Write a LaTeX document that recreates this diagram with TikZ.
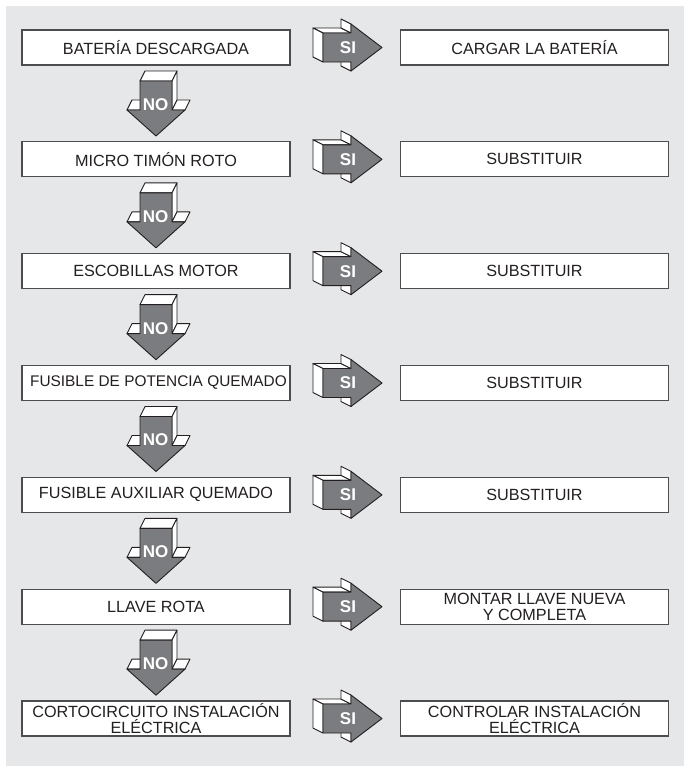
\documentclass[tikz,border=0pt]{standalone}
\usepackage{fontspec}
\setmainfont{Liberation Sans}
\definecolor{bg}{HTML}{E6E7E8}
\definecolor{ink}{HTML}{231F20}
\definecolor{arrowgray}{HTML}{7B7C7F}
\definecolor{edge}{HTML}{4D4D4F}
\newcommand{\SIarrow}[2]{%
\begin{scope}[shift={(0,#2)}]
 \filldraw[face] (323,-14.5) -- (351,-14.5) -- (341,-19.5) -- (313,-19.5) -- cycle;
 \filldraw[face] (313,-19.5) -- (323,-14.5) -- (323,14.5) -- (313,9.5) -- cycle;
 \filldraw[face] (341,-28.5) -- (351,-23.5) -- (351,-14.5) -- (341,-19.5) -- cycle;
 \filldraw[face] (341,9.5) -- (351,14.5) -- (351,23.5) -- (341,18.5) -- cycle;
 \filldraw[front] (323,-14.5) -- (351,-14.5) -- (351,-23.5) -- (382,0) -- (351,23.5) -- (351,14.5) -- (323,14.5) -- cycle;
 \node[lbl] (#1) at (348,0) {SI};
\end{scope}}
\newcommand{\NOarrow}[2]{%
\begin{scope}[shift={(0,#2)}]
 \filldraw[face] (145,23.5) -- (177,23.5) -- (172,33.5) -- (140,33.5) -- cycle;
 \filldraw[face] (177,23.5) -- (177,52.5) -- (172,62.5) -- (172,33.5) -- cycle;
 \filldraw[face] (132,52.5) -- (145,52.5) -- (140,62.5) -- (127,62.5) -- cycle;
 \filldraw[face] (177,52.5) -- (190,52.5) -- (185,62.5) -- (172,62.5) -- cycle;
 \filldraw[front] (140,33.5) -- (172,33.5) -- (172,62.5) -- (185,62.5) -- (156,88.5) -- (127,62.5) -- (140,62.5) -- cycle;
 \node[lbl] (#1) at (155.5,57) {NO};
\end{scope}}
\begin{document}
\begin{tikzpicture}[x=1pt,y=-1pt,
 box/.style={draw=edge, line width=1.1pt, fill=white, minimum width=268pt, minimum height=35pt,
   inner sep=0pt, font=\fontsize{16.2}{16}\selectfont, text=ink, align=center},
 front/.style={fill=arrowgray, draw=ink, line width=0.9pt, line join=round},
 face/.style={fill=white, draw=ink, line width=0.9pt, line join=round},
 lbl/.style={text=white, font=\fontsize{17}{17}\selectfont\bfseries, inner sep=0pt}]
\useasboundingbox (0,0) rectangle (684,766);
\fill[bg] (6,6) rectangle (684,766);
% left column
\node[box] (l1) at (156,47.5) {BATERÍA DESCARGADA};
\node[box] (l2) at (156,159.33) {MICRO TIMÓN ROTO};
\node[box] (l3) at (156,271.17) {ESCOBILLAS MOTOR};
\node[box, font=\fontsize{15.4}{16}\selectfont] (l4) at (156,383) {\hspace*{5pt}FUSIBLE DE POTENCIA QUEMADO};
\node[box] (l5) at (156,494.83) {FUSIBLE AUXILIAR QUEMADO};
\node[box] (l6) at (156,606.67) {LLAVE ROTA};
\node[box] (l7) at (156,718.5) {CORTOCIRCUITO INSTALACIÓN\\ELÉCTRICA};
% right column
\node[box] (r1) at (534.5,47.5) {CARGAR LA BATERÍA};
\node[box] (r2) at (534.5,159.33) {SUBSTITUIR};
\node[box] (r3) at (534.5,271.17) {SUBSTITUIR};
\node[box] (r4) at (534.5,383) {SUBSTITUIR};
\node[box] (r5) at (534.5,494.83) {SUBSTITUIR};
\node[box] (r6) at (534.5,606.67) {MONTAR LLAVE NUEVA\\Y COMPLETA};
\node[box] (r7) at (534.5,718.5) {CONTROLAR INSTALACIÓN\\ELÉCTRICA};
% SI arrows
\SIarrow{s1}{47.5}
\SIarrow{s2}{159.33}
\SIarrow{s3}{271.17}
\SIarrow{s4}{383}
\SIarrow{s5}{494.83}
\SIarrow{s6}{606.67}
\SIarrow{s7}{718.5}
% NO arrows
\NOarrow{n1}{47.5}
\NOarrow{n2}{159.33}
\NOarrow{n3}{271.17}
\NOarrow{n4}{383}
\NOarrow{n5}{494.83}
\NOarrow{n6}{606.67}
\end{tikzpicture}
\end{document}
